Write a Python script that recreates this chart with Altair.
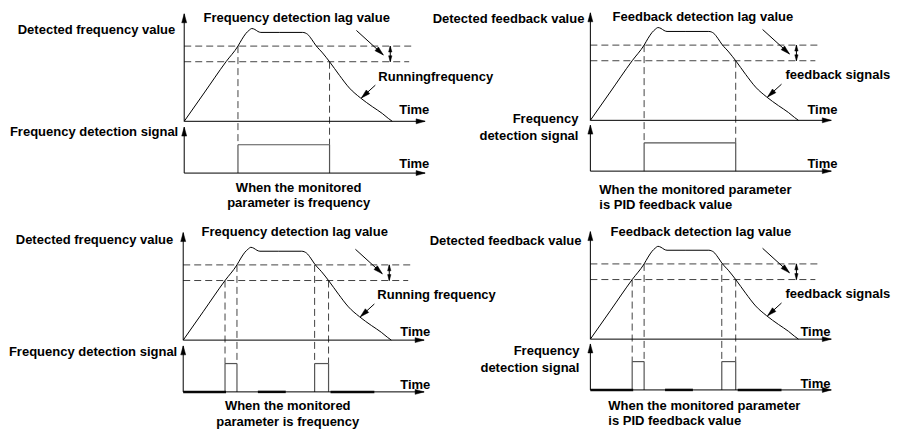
import math
import altair as alt
import pandas as pd

# ---------------- data ----------------
# four panels: vertical-axis x, upper-plot baseline y, lower-plot baseline y, signal type
panel_ids = ["TL", "TR", "BL", "BR"]
panel_axis_x = [181, 589, 180, 589]
panel_upper_base = [122, 121, 346, 345]
panel_lower_base = [175, 173, 399, 397]
panel_mode = ["single", "single", "double", "double"]

# running frequency / feedback curve: time from origin, value above baseline
curve_t = [0, 20, 42, 54, 58, 62, 65, 68, 71, 74, 77, 96, 119, 124, 128, 132, 139, 146, 156, 166, 177, 189, 199, 205, 209]
curve_v = [0, 29, 61, 77, 84, 90, 93, 95, 94, 92, 91, 91, 91, 89, 84, 78, 70, 61, 47, 34, 24, 15, 8, 3, 0]

upper_threshold = 77
lower_threshold = 61
signal_high = 29
time_axis_len = 242
upper_axis_h = 110
lower_axis_h = 47
upper_dash_len = 232
lower_dash_len = 226

t_rise_lower, t_rise_upper, t_fall_upper, t_fall_lower = 42, 54, 132, 146
thick_segments = [(0, 43), (75, 103), (148, 192)]

# annotation arrows (start t,v -> tip t,v) in panel units
lag_arrow = ((173, 93), (200, 68))
run_arrow = ((192, 37), (178, 24))
double_arrow_t = 207

# labels: text, x, y, align
labels = [
    ("Detected frequency value", 172, 29, "right"),
    ("Frequency detection lag value", 294, 16, "center"),
    ("Runningfrequency", 376, 77, "left"),
    ("Time", 397, 110, "left"),
    ("Frequency detection signal", 175, 133, "right"),
    ("Time", 397, 166, "left"),
    ("When the monitored", 296, 190, "center"),
    ("parameter is frequency", 296, 206, "center"),
    ("Detected feedback value", 583, 17, "right"),
    ("Feedback detection lag value", 702, 15, "center"),
    ("feedback signals", 785, 75, "left"),
    ("Time", 807, 110, "left"),
    ("Frequency", 577, 120, "right"),
    ("detection signal", 577, 137, "right"),
    ("Time", 807, 166, "left"),
    ("When the monitored parameter", 598, 192, "left"),
    ("is PID feedback value", 598, 208, "left"),
    ("Detected frequency value", 170, 244, "right"),
    ("Frequency detection lag value", 292, 235, "center"),
    ("Running frequency", 375, 300, "left"),
    ("Time", 398, 338, "left"),
    ("Frequency detection signal", 174, 358, "right"),
    ("Time", 398, 392, "left"),
    ("When the monitored", 285, 413, "center"),
    ("parameter is frequency", 285, 430, "center"),
    ("Detected feedback value", 580, 245, "right"),
    ("Feedback detection lag value", 700, 235, "center"),
    ("feedback signals", 785, 299, "left"),
    ("Time", 800, 338, "left"),
    ("Frequency", 578, 357, "right"),
    ("detection signal", 578, 375, "right"),
    ("Time", 800, 391, "left"),
    ("When the monitored parameter", 607, 413, "left"),
    ("is PID feedback value", 607, 429, "left"),
]

# ---------------- build tables ----------------
curve_rows, seg_rows, head_rows = [], [], []


def direction(x1, y1, x2, y2):
    d = math.hypot(x2 - x1, y2 - y1)
    return (x2 - x1) / d, (y2 - y1) / d


for pid, x0, ub, lb, mode in zip(panel_ids, panel_axis_x, panel_upper_base,
                                 panel_lower_base, panel_mode):
    for i, (t, v) in enumerate(zip(curve_t, curve_v)):
        curve_rows.append({"panel": pid, "i": i, "x": x0 + t, "y": ub - v})

    def seg(t1, y1, t2, y2, kind):
        seg_rows.append({"x": x0 + t1, "y": y1, "x2": x0 + t2, "y2": y2, "kind": kind})

    def head(t1, y1, t2, y2, length):
        # arrowhead whose tip is at (t2, y2), pointing from (t1, y1)
        ux, uy = direction(t1, y1, t2, y2)
        a = math.degrees(math.atan2(ux, -uy)) % 360
        head_rows.append({"x": x0 + t2 - ux * length / 2, "y": y2 - uy * length / 2,
                          "ang": a, "size": length * length})

    # axes
    seg(0, ub, 0, ub - upper_axis_h, "axis"); head(0, ub, 0, ub - upper_axis_h, 9)
    seg(0, ub, time_axis_len, ub, "axis"); head(0, ub, time_axis_len, ub, 9)
    seg(0, lb, 0, lb - lower_axis_h, "axis"); head(0, lb, 0, lb - lower_axis_h, 9)
    seg(0, lb, time_axis_len, lb, "axis"); head(0, lb, time_axis_len, lb, 9)
    # thresholds
    seg(0, ub - upper_threshold, upper_dash_len, ub - upper_threshold, "dash")
    seg(0, ub - lower_threshold, lower_dash_len, ub - lower_threshold, "dash")
    # double arrow for lag
    ya, yb = ub - upper_threshold, ub - lower_threshold
    seg(double_arrow_t, ya, double_arrow_t, yb, "axis")
    head(double_arrow_t, yb, double_arrow_t, ya, 6)
    head(double_arrow_t, ya, double_arrow_t, yb, 6)
    # label arrows
    for (ts, vs), (te, ve) in (lag_arrow, run_arrow):
        seg(ts, ub - vs, te, ub - ve, "axis")
        head(ts, ub - vs, te, ub - ve, 9)
    # detection signal
    high = lb - signal_high
    if mode == "single":
        pulses = [(t_rise_upper, t_fall_lower)]
        drops = [(t_rise_upper, upper_threshold), (t_fall_lower, lower_threshold)]
    else:
        pulses = [(t_rise_lower, t_rise_upper), (t_fall_upper, t_fall_lower)]
        drops = [(t_rise_lower, lower_threshold), (t_rise_upper, upper_threshold),
                 (t_fall_upper, upper_threshold), (t_fall_lower, lower_threshold)]
        for a, b in thick_segments:
            seg(a, lb, b, lb, "thick")
    for a, b in pulses:
        seg(a, lb, a, high, "signal")
        seg(b, lb, b, high, "signal")
        seg(a, high, b, high, "signal")
    for t, thr in drops:
        seg(t, ub - thr, t, high, "dash")

curve_df = pd.DataFrame(curve_rows)
seg_df = pd.DataFrame(seg_rows)
head_df = pd.DataFrame(head_rows)
label_df = pd.DataFrame(labels, columns=["text", "x", "y", "anchor"])

# ---------------- chart ----------------
xs = alt.Scale(domain=[4, 893], nice=False, zero=False)
ys = alt.Scale(domain=[6, 437], nice=False, zero=False, reverse=True)


def X(f="x"):
    return alt.X(f"{f}:Q", scale=xs, axis=None)


def Y(f="y"):
    return alt.Y(f"{f}:Q", scale=ys, axis=None)


def rules(kind, **mk):
    return alt.Chart(seg_df[seg_df["kind"] == kind]).mark_rule(**mk).encode(
        x=X(), y=Y(), x2="x2:Q", y2="y2:Q")


dash = rules("dash", color="#444444", strokeWidth=1, strokeDash=[7, 4])
signal = rules("signal", color="#555555", strokeWidth=1.2)
thick = rules("thick", color="#111111", strokeWidth=2.5)
axis = rules("axis", color="#000000", strokeWidth=1)

curve = alt.Chart(curve_df).mark_line(color="#000000", strokeWidth=1, interpolate="monotone").encode(
    x=X(), y=Y(), detail="panel:N", order="i:Q")

heads = alt.Chart(head_df).mark_point(
    shape="M0,-1L-0.55,1L0.55,1Z", filled=True, fill="#000000", stroke="#000000",
    strokeWidth=0.5, opacity=1, fillOpacity=1
).encode(
    x=X(), y=Y(), angle=alt.Angle("ang:Q", scale=None), size=alt.Size("size:Q", scale=None))

texts = []
for al in ["left", "center", "right"]:
    texts.append(alt.Chart(label_df[label_df["anchor"] == al]).mark_text(
        align=al, baseline="middle", font="Liberation Sans", fontWeight="bold",
        fontSize=13, color="#000000"
    ).encode(x=X(), y=Y(), text="text:N"))

chart = alt.layer(dash, signal, thick, axis, curve, heads, *texts).properties(
    width=885, height=421, padding=0, autosize=alt.AutoSizeParams(type="none")
).configure_view(stroke=None)

chart.save("out.html", embed_options={"renderer": "svg", "actions": False})
